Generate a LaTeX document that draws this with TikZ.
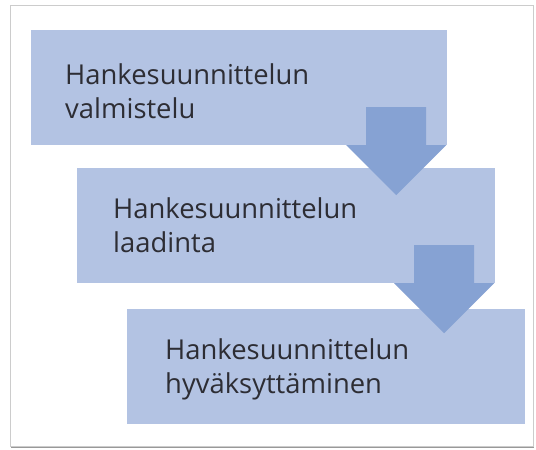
\documentclass[tikz,border=0pt]{standalone}
\usepackage{fontspec}
\setmainfont{Open Sans}
\definecolor{laatikko}{RGB}{179,195,227}
\definecolor{nuoli}{RGB}{134,162,211}
\definecolor{teksti}{RGB}{45,45,52}
\tikzset{
	vaihe/.style={fill=laatikko,inner sep=0pt,minimum height=115pt},
	nimi/.style={anchor=base west,align=left,inner sep=0pt,text=teksti,font=\fontsize{27.4}{34}\selectfont},
	alanuoli/.style={fill=nuoli}
}
\begin{document}
\begin{tikzpicture}[x=1pt,y=-1pt]
	\useasboundingbox (0,0) rectangle (536,450);
	% kehys
	\fill[black!40] (11,7) rectangle (534,448);
	\filldraw[fill=white,draw=black!20,line width=1pt] (10,5) rectangle (533,446);
	% vaiheet
	\node[vaihe,minimum width=416pt] (valm) at (239,87.5) {};
	\node[vaihe,minimum width=418pt] (laad) at (286,225.5) {};
	\node[vaihe,minimum width=398pt] (hyv) at (326,366) {};
	\node[nimi] (t1) at (65,118) {Hankesuunnittelun\\valmistelu};
	\node[nimi] (t2) at (113,252) {Hankesuunnittelun\\laadinta};
	\node[nimi] (t3) at (165,393) {Hankesuunnittelun\\hyväksyttäminen};
	% nuolet
	\foreach \a in {valm,laad}
		\fill[alanuoli] ([xshift=-81pt,yshift=38pt]\a.south east) -- ++(60,0) -- ++(0,38) -- ++(20,0)
			-- ++(-50,50) -- ++(-50,-50) -- ++(20,0) -- cycle;
\end{tikzpicture}
\end{document}
